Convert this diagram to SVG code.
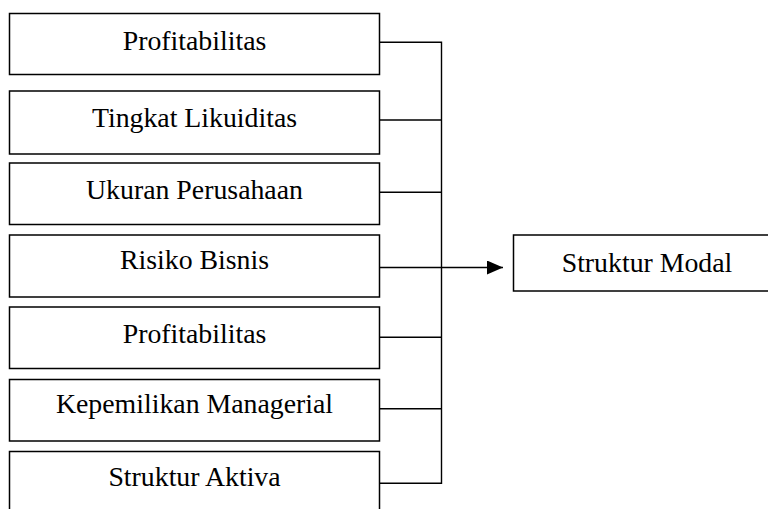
<svg xmlns="http://www.w3.org/2000/svg" width="768" height="509" viewBox="0 0 768 509">
<style>
.box{fill:#fff;stroke:#000;stroke-width:1.5}
.lbl{font-family:"Liberation Serif","Times New Roman",serif;font-size:27.8px;fill:#000;text-anchor:middle}
.ln{stroke:#000;stroke-width:1.4;fill:none}
</style>
<defs>
<marker id="ah" markerUnits="userSpaceOnUse" markerWidth="17" markerHeight="14" refX="16" refY="7" orient="auto">
<path d="M0,0 L16,7 L0,14 Z" fill="#000"/>
</marker>
</defs>
<rect width="768" height="509" fill="#fff"/>
<g id="n1"><rect class="box" x="9.5" y="13.5" width="370" height="61"/><text class="lbl" x="194.5" y="50">Profitabilitas</text></g>
<g id="n2"><rect class="box" x="9.5" y="91" width="370" height="63"/><text class="lbl" x="194.5" y="126.7">Tingkat Likuiditas</text></g>
<g id="n3"><rect class="box" x="9.5" y="163" width="370" height="61.5"/><text class="lbl" x="194.5" y="199">Ukuran Perusahaan</text></g>
<g id="n4"><rect class="box" x="9.5" y="235" width="370" height="62"/><text class="lbl" x="194.5" y="269.3">Risiko Bisnis</text></g>
<g id="n5"><rect class="box" x="9.5" y="307" width="370" height="61.5"/><text class="lbl" x="194.5" y="343.3">Profitabilitas</text></g>
<g id="n6"><rect class="box" x="9.5" y="379.5" width="370" height="61.5"/><text class="lbl" x="194.5" y="413.3">Kepemilikan Managerial</text></g>
<g id="n7"><rect class="box" x="9.5" y="451.5" width="370" height="70"/><text class="lbl" x="194.5" y="485.7">Struktur Aktiva</text></g>
<g id="n8"><rect class="box" x="513.5" y="235" width="270" height="56"/><text class="lbl" x="647" y="271.7">Struktur Modal</text></g>
<g id="connectors">
<path class="ln" d="M379.5,42.3 H441.5 M379.5,120 H441.5 M379.5,192.3 H441.5 M379.5,337.3 H441.5 M379.5,408.7 H441.5 M379.5,483.3 H441.5 M441.5,41.6 V484"/>
<path class="ln" d="M379.5,267.5 H503" marker-end="url(#ah)"/>
</g>
</svg>
